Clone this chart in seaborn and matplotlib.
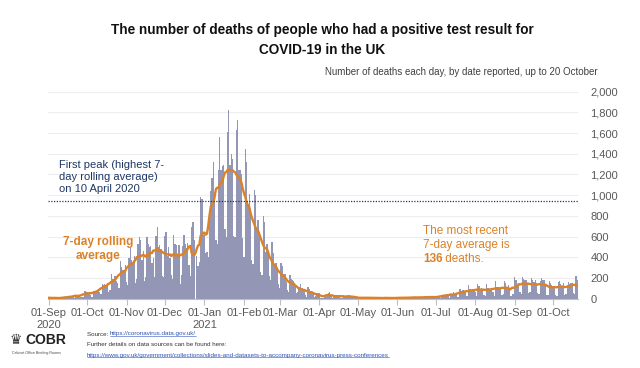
import numpy as np
import pandas as pd
import matplotlib
matplotlib.use("Agg")
import matplotlib.pyplot as plt
import seaborn as sns
from matplotlib.lines import Line2D

# Daily deaths (date reported), 01-Sep-2020 to 20-Oct-2021, one row per week (Tue..Mon)
deaths = [
    3, 12, 10, 12, 8, 2, 3,
    8, 8, 6, 9, 10, 5, 9,
    20, 20, 21, 9, 27, 18, 11,
    37, 37, 40, 34, 17, 18, 13,
    71, 71, 66, 59, 49, 33, 19,
    76, 70, 77, 87, 81, 65, 50,
    143, 137, 138, 136, 150, 67, 80,
    241, 191, 189, 224, 174, 151, 102,
    367, 310, 280, 274, 326, 162, 136,
    397, 492, 378, 355, 413, 156, 194,
    532, 595, 563, 376, 462, 168, 213,
    598, 529, 501, 511, 341, 398, 206,
    608, 696, 498, 521, 479, 215, 205,
    603, 648, 414, 504, 397, 231, 189,
    616, 533, 516, 424, 519, 144, 232,
    506, 612, 532, 489, 534, 326, 215,
    691, 744, 570, 0, 410, 316, 357,
    981, 964, 613, 613, 445, 454, 407,
    830, 1041, 1162, 1325, 1035, 563, 529,
    1243, 1564, 1248, 1280, 1295, 671, 599,
    1610, 1820, 1290, 1401, 1348, 610, 592,
    1631, 1725, 1239, 1245, 1200, 587, 406,
    1449, 1322, 915, 1014, 828, 373, 333,
    1052, 1001, 678, 758, 621, 258, 230,
    799, 738, 454, 533, 445, 215, 178,
    548, 442, 323, 345, 290, 144, 104,
    343, 315, 242, 236, 158, 82, 65,
    231, 190, 181, 175, 121, 52, 64,
    110, 141, 95, 101, 96, 33, 17,
    112, 98, 70, 63, 58, 19, 23,
    56, 52, 51, 10, 10, 9, 26,
    20, 45, 53, 60, 34, 7, 13,
    23, 33, 30, 34, 32, 10, 4,
    33, 22, 29, 18, 32, 12, 17,
    29, 22, 11, 15, 15, 1, 4,
    14, 2, 13, 14, 11, 4, 4,
    11, 5, 17, 9, 7, 4, 1,
    7, 9, 11, 10, 5, 4, 0,
    14, 8, 12, 10, 6, 2, 0,
    4, 12, 18, 11, 12, 0, 3,
    13, 6, 20, 12, 12, 8, 7,
    9, 19, 19, 11, 14, 11, 3,
    16, 19, 16, 18, 23, 11, 5,
    22, 14, 18, 18, 18, 15, 9,
    37, 33, 35, 34, 41, 25, 6,
    50, 49, 63, 49, 41, 19, 14,
    96, 73, 84, 84, 64, 28, 24,
    131, 91, 86, 92, 74, 65, 24,
    138, 119, 92, 103, 92, 39, 26,
    146, 102, 94, 93, 104, 61, 26,
    170, 111, 113, 114, 104, 40, 49,
    174, 147, 100, 133, 103, 28, 48,
    50, 207, 178, 121, 156, 68, 45,
    209, 191, 185, 178, 147, 56, 61,
    201, 185, 158, 178, 148, 56, 49,
    167, 203, 182, 180, 136, 40, 37,
    167, 150, 137, 127, 121, 33, 28,
    166, 167, 139, 127, 148, 38, 45,
    136, 157, 138, 148, 148, 57, 45,
    223, 179,
]
start_date = "2020-09-01"
tick_dates = ["2020-09-01", "2020-10-01", "2020-11-01", "2020-12-01", "2021-01-01",
              "2021-02-01", "2021-03-01", "2021-04-01", "2021-05-01", "2021-06-01",
              "2021-07-01", "2021-08-01", "2021-09-01", "2021-10-01"]
tick_labels = ["01-Sep\n2020", "01-Oct", "01-Nov", "01-Dec", "01-Jan\n2021", "01-Feb",
               "01-Mar", "01-Apr", "01-May", "01-Jun", "01-Jul", "01-Aug", "01-Sep", "01-Oct"]
first_peak = 943
latest_avg = 136

bar_col = "#8E92B9"
orange = "#DB8229"
navy = "#1F3864"
grey = "#595959"

sns.set_theme(style="white")
plt.rcParams["font.family"] = ["Liberation Sans", "DejaVu Sans"]

df = pd.DataFrame({"day": np.arange(len(deaths)), "deaths": deaths})
df["avg"] = df["deaths"].rolling(7, center=True, min_periods=1).mean()
start = pd.Timestamp(start_date)
tick_pos = [(pd.Timestamp(d) - start).days for d in tick_dates]

fig = plt.figure(figsize=(6.4, 3.68), dpi=100)
ax = fig.add_axes([48 / 640, 1 - 298.7 / 368, 530 / 640, 207 / 368])

sns.barplot(data=df, x="day", y="deaths", native_scale=True, color=bar_col,
            width=1.0, linewidth=0, errorbar=None, ax=ax, zorder=2)
sns.lineplot(data=df, x="day", y="avg", color=orange, linewidth=1.7, ax=ax, zorder=3)
ax.axhline(first_peak, color=navy, linestyle=(0, (1, 1.2)), linewidth=0.9, zorder=4)

ax.set_xlim(-0.5, len(deaths) - 0.5)
ax.set_ylim(0, 2000)
ax.set_yticks(range(0, 2001, 200))
ax.set_yticklabels([f"{v:,}" for v in range(0, 2001, 200)])
ax.yaxis.tick_right()
ax.tick_params(axis="y", length=0, pad=9, labelsize=8, labelcolor=grey)
ax.set_xticks(tick_pos)
ax.set_xticklabels(tick_labels)
ax.tick_params(axis="x", length=4, width=0.8, color="#BFBFBF", pad=3,
               labelsize=8, labelcolor=grey, bottom=True)
ax.grid(axis="y", color="#EDEDED", linewidth=0.8, zorder=0)
ax.set_axisbelow(True)
ax.set_xlabel("")
ax.set_ylabel("")
for s in ["left", "right", "top"]:
    ax.spines[s].set_visible(False)
ax.spines["bottom"].set_color("#BFBFBF")
ax.spines["bottom"].set_linewidth(0.8)

# titles
fig.text(0.503, 1 - 40 / 368,
         "The number of deaths of people who had a positive test result for\nCOVID-19 in the UK",
         ha="center", va="center", fontsize=9.8, fontweight="bold", color="#111111",
         linespacing=1.6)
fig.text(598 / 640, 1 - 72 / 368,
         "Number of deaths each day, by date reported, up to 20 October",
         ha="right", va="center", fontsize=7, color="#404040")

# annotations
fig.text(59 / 640, 1 - 177 / 368, "First peak (highest 7-\nday rolling average)\non 10 April 2020",
         ha="left", va="center", fontsize=8, color=navy, linespacing=1.25)
fig.text(98 / 640, 1 - 249 / 368, "7-day rolling\naverage", ha="center", va="center",
         fontsize=8.5, fontweight="bold", color=orange, linespacing=1.2)
fig.text(423 / 640, 1 - 238 / 368, "The most recent\n7-day average is",
         ha="left", va="center", fontsize=8.5, color=orange, linespacing=1.3)
t136 = fig.text(423 / 640, 1 - 259 / 368, str(latest_avg), ha="left", va="center",
                fontsize=8.5, fontweight="bold", color=orange)
ax.annotate(" deaths.", xy=(1, 0.5), xycoords=t136, va="center", ha="left",
            fontsize=8.5, color=orange, annotation_clip=False)

# footer
fig.text(16 / 640, 1 - 340 / 368, "\u265b", fontsize=10, color="#333333", ha="center", va="center")
fig.text(46 / 640, 1 - 340 / 368, "COBR", fontsize=10, fontweight="bold", color="#222222",
         ha="center", va="center")
fig.text(36 / 640, 1 - 353 / 368, "Cabinet Office Briefing Rooms", fontsize=2.6, color="#444444",
         ha="center", va="center")
src = fig.text(87 / 640, 1 - 334 / 368, "Source: ", fontsize=4.5, color="#333333",
               ha="left", va="center")
url1 = ax.annotate("https://coronavirus.data.gov.uk/", xy=(1, 0.5), xycoords=src,
                   va="center", ha="left", fontsize=4.5, color="#2F54B4",
                   annotation_clip=False)
fig.text(87 / 640, 1 - 345 / 368, "Further details on data sources can be found here:",
         fontsize=4.5, color="#333333", ha="left", va="center")
url2 = fig.text(87 / 640, 1 - 355 / 368,
                "https://www.gov.uk/government/collections/slides-and-datasets-to-accompany-coronavirus-press-conferences",
                fontsize=4.5, color="#2F54B4", ha="left", va="center")

fig.canvas.draw()
for t in (url1, url2):
    bb = t.get_window_extent()
    fig.add_artist(Line2D([bb.x0, bb.x1], [bb.y0 + 0.5, bb.y0 + 0.5], transform=None,
                          color="#2F54B4", linewidth=0.4))

fig.savefig("out.png", dpi=100)
